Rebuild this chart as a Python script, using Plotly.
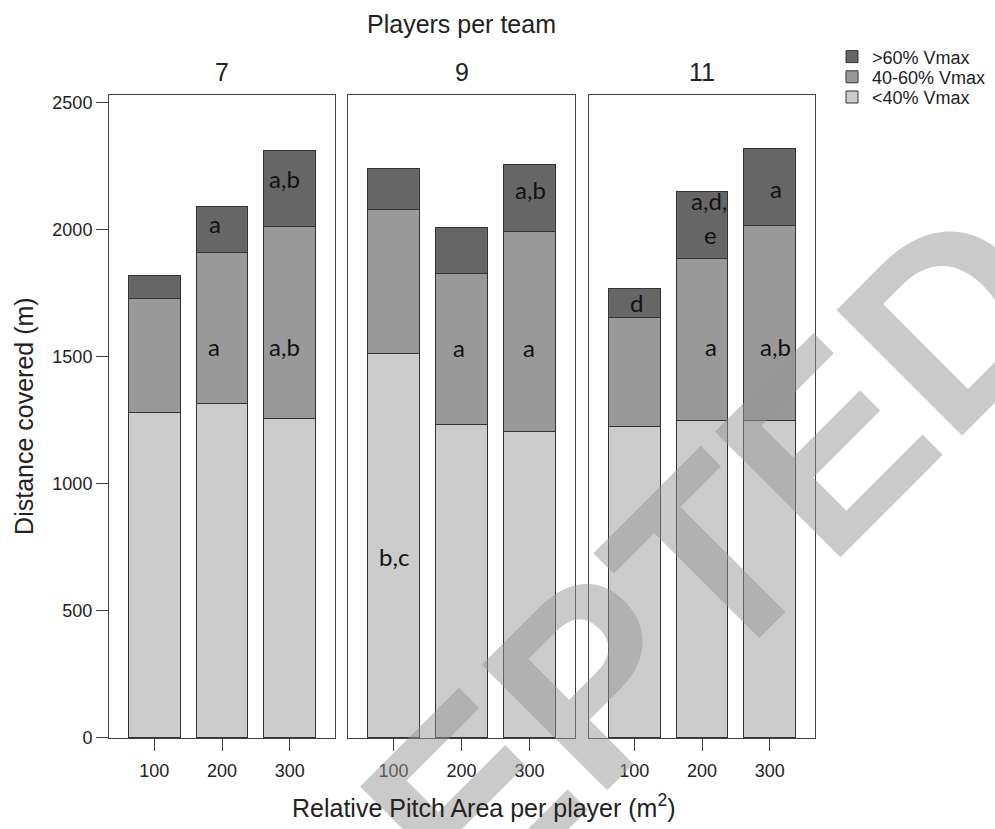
import plotly.graph_objects as go

W, H = 995, 829

# ---------------- data ----------------
teams = ["7", "9", "11"]
areas = ["100", "200", "300"]
series_names = ["<40% Vmax", "40-60% Vmax", ">60% Vmax"]
series_colors = ["#cccccc", "#999999", "#666666"]

low_7 = [1279, 1315, 1256]
mid_7 = [450, 594, 756]
high_7 = [89, 182, 300]

low_9 = [1512, 1231, 1207]
mid_9 = [566, 595, 783]
high_9 = [160, 181, 265]

low_11 = [1225, 1248, 1248]
mid_11 = [428, 638, 768]
high_11 = [114, 263, 301]

values = {
    "7": [low_7, mid_7, high_7],
    "9": [low_9, mid_9, high_9],
    "11": [low_11, mid_11, high_11],
}

y_ticks = [0, 500, 1000, 1500, 2000, 2500]

# significance letters: (team, x position in category units, y value, text)
letters = [
    ("7", 0.89, 2010, "a"), ("7", 1.92, 2190, "a,b"),
    ("7", 0.88, 1527, "a"), ("7", 1.93, 1527, "a,b"),
    ("9", 0.0, 700, "b,c"), ("9", 0.97, 1525, "a"),
    ("9", 2.0, 1525, "a"), ("9", 2.01, 2145, "a,b"),
    ("11", 0.03, 1699, "d"), ("11", 1.11, 2100, "a,d,"),
    ("11", 1.12, 1970, "e"), ("11", 1.13, 1527, "a"),
    ("11", 2.09, 2149, "a"), ("11", 2.09, 1527, "a,b"),
]

# ---------------- layout helpers ----------------
def px(x):
    return x / W

def py(y):
    return 1 - y / H

panel_px = [(109, 335), (348, 575), (589, 815)]
y_dom = [py(746.7), py(94)]
y_range = [0, 2530]
x_range = [-0.67, 2.67]
FONT = "Liberation Sans"
LINE = "#404040"

fig = go.Figure()

legend_ids = {0: "legend3", 1: "legend2", 2: "legend"}

for i, team in enumerate(teams):
    xa = "x" if i == 0 else f"x{i+1}"
    ya = "y" if i == 0 else f"y{i+1}"
    for s in range(3):
        fig.add_trace(go.Bar(
            x=[0, 1, 2],
            y=values[team][s],
            name=series_names[s],
            marker=dict(color=series_colors[s], line=dict(color="#333333", width=1)),
            width=0.76,
            xaxis=xa, yaxis=ya,
            showlegend=(i == 0),
            legend=legend_ids[s],
            hoverinfo="skip",
        ))

layout = dict(
    width=W, height=H,
    margin=dict(l=0, r=0, t=0, b=0),
    paper_bgcolor="white", plot_bgcolor="white",
    barmode="stack",
    font=dict(family=FONT, color="#222222"),
)

for i in range(3):
    kx = "xaxis" if i == 0 else f"xaxis{i+1}"
    ky = "yaxis" if i == 0 else f"yaxis{i+1}"
    yname = "y" if i == 0 else f"y{i+1}"
    xname = "x" if i == 0 else f"x{i+1}"
    layout[kx] = dict(
        domain=[px(panel_px[i][0]), px(panel_px[i][1])],
        range=x_range, anchor=yname,
        tickvals=[0, 1, 2], ticktext=areas,
        ticks="outside", ticklen=12, tickcolor=LINE, tickwidth=1,
        ticklabelstandoff=5,
        showline=True, linecolor=LINE, linewidth=1, mirror=True,
        showgrid=False, zeroline=False,
        tickfont=dict(size=18, family=FONT, color="#222222"),
        fixedrange=True,
    )
    layout[ky] = dict(
        domain=y_dom, range=y_range, anchor=xname,
        showline=True, linecolor=LINE, linewidth=1, mirror=True,
        showgrid=False, zeroline=False,
        tickvals=y_ticks if i == 0 else [],
        ticks="outside" if i == 0 else "",
        ticklen=12, tickcolor=LINE, tickwidth=1,
        showticklabels=(i == 0),
        tickfont=dict(size=18, family=FONT, color="#222222"),
        fixedrange=True,
    )

legend_y = {"legend": 55.7, "legend2": 76.2, "legend3": 96.7}
for lid, yc in legend_y.items():
    layout[lid] = dict(
        x=px(832), xanchor="left", y=py(yc), yanchor="middle",
        font=dict(size=18, family=FONT, color="#222222"),
        bgcolor="rgba(0,0,0,0)", itemwidth=30, tracegroupgap=0,
        itemclick=False, itemdoubleclick=False,
    )

fig.update_layout(**layout)

annotations = []
# watermark
annotations.append(dict(
    text="ACCEPTED", xref="paper", yref="paper", x=px(516.5), y=py(763.5),
    xanchor="center", yanchor="middle", showarrow=False, textangle=-45,
    font=dict(family=FONT, size=258, color="rgba(150,150,150,0.5)", weight="bold"),
))
# titles
annotations.append(dict(
    text="Players per team", xref="paper", yref="paper", x=px(461), y=py(22),
    xanchor="center", yanchor="middle", showarrow=False,
    font=dict(family=FONT, size=25, color="#222222"),
))
for i, team in enumerate(teams):
    annotations.append(dict(
        text=team, xref="paper", yref="paper",
        x=px((panel_px[i][0] + panel_px[i][1]) / 2), y=py(71.5),
        xanchor="center", yanchor="middle", showarrow=False,
        font=dict(family=FONT, size=25, color="#222222"),
    ))
annotations.append(dict(
    text="Relative Pitch Area per player (m<sup>2</sup>)", xref="paper", yref="paper",
    x=px(484), y=py(816), xanchor="center", yanchor="middle", showarrow=False,
    font=dict(family=FONT, size=25, color="#222222"),
))
annotations.append(dict(
    text="Distance covered (m)", xref="paper", yref="paper",
    x=px(24), y=py(420), xanchor="center", yanchor="middle", showarrow=False,
    textangle=-90, font=dict(family=FONT, size=25, color="#222222"),
))
# significance letters
for team, xv, yv, txt in letters:
    i = teams.index(team)
    annotations.append(dict(
        text=txt, x=xv, y=yv,
        xref="x" if i == 0 else f"x{i+1}",
        yref="y" if i == 0 else f"y{i+1}",
        xanchor="center", yanchor="middle", showarrow=False, yshift=3,
        font=dict(family="Lato", size=24, color="#111111"),
    ))

fig.update_layout(annotations=annotations)

fig.write_html("out.html")
